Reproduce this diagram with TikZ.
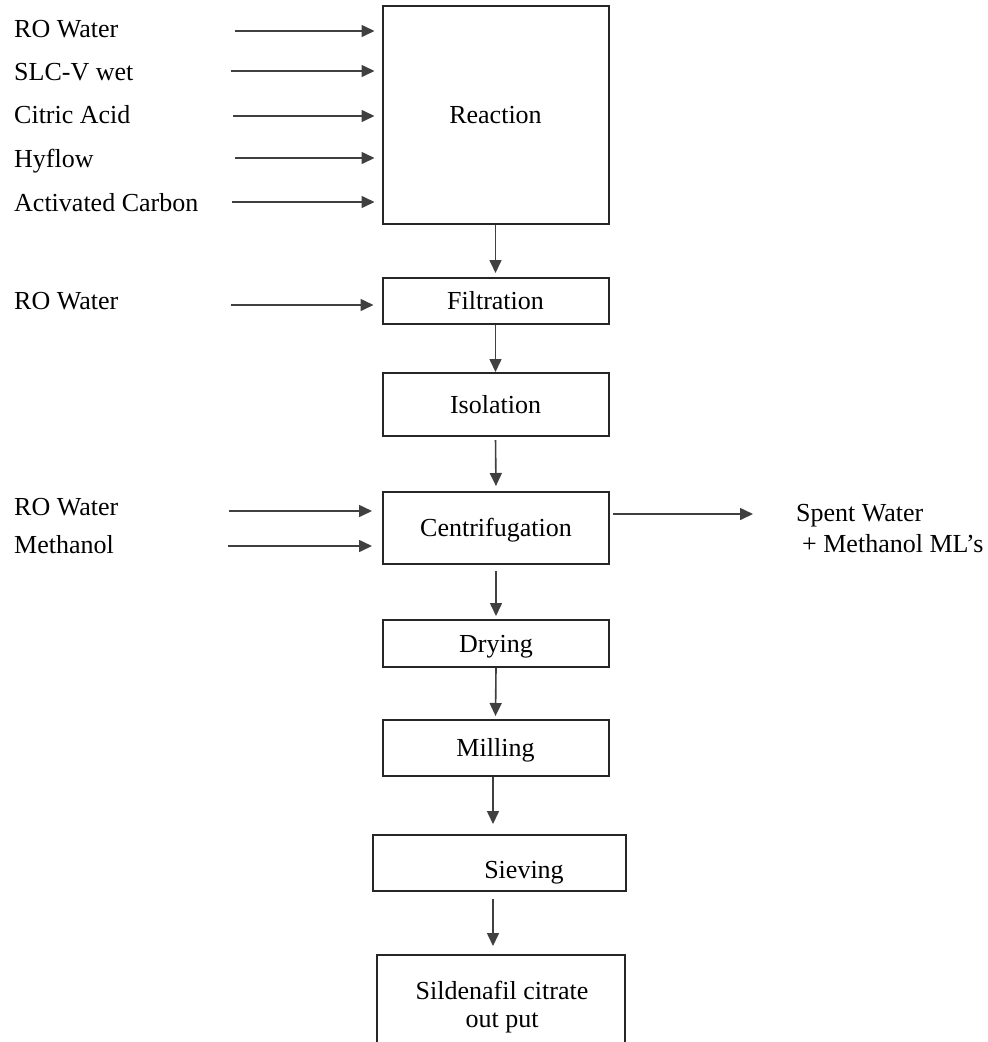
\documentclass[tikz,border=0pt]{standalone}
\usepackage{fontspec}
\setmainfont{Liberation Serif}
\usetikzlibrary{arrows.meta}
\begin{document}
\begin{tikzpicture}[x=1pt,y=-1pt,
  font=\fontsize{26}{31}\selectfont,
  box/.style={draw=black!85, line width=2pt, minimum width=226pt, inner sep=0pt, text height=17pt, text depth=0pt},
  lbl/.style={anchor=base west, inner sep=0pt},
  txt/.style={anchor=base, inner sep=0pt},
  arr/.style={draw=black!75, line width=1.6pt, -{Triangle[length=13pt,width=12pt]}}]
\useasboundingbox (0,0) rectangle (988,1042);
\clip (0,0) rectangle (988,1042);
\fill[white] (0,0) rectangle (988,1042);

% process boxes
\node[box, minimum height=218pt] (reaction) at (495.5,115) {Reaction};
\node[box, minimum height=46pt] (filtration) at (495.5,301) {Filtration};
\node[box, minimum height=63pt] (isolation) at (495.5,404.5) {Isolation};
\node[box, minimum height=72pt] (centrif) at (496,528) {Centrifugation};
\node[box, minimum height=47pt] (drying) at (496,643.5) {Drying};
\node[box, minimum height=56pt] (milling) at (495.5,748) {Milling};
\node[box, minimum width=253pt, minimum height=56pt] (sieving) at (499.5,863) {};
\node[txt] (sievtxt) at (524,878) {Sieving};
\node[box, minimum width=248pt, minimum height=130pt] (final) at (501,1020) {};
\node[txt] (fin1) at (502,999) {Sildenafil citrate};
\node[txt] (fin2) at (502,1027) {out put};

% input labels
\node[lbl] (l1) at (14,37) {RO Water};
\node[lbl] (l2) at (14,80) {SLC-V wet};
\node[lbl] (l3) at (14,123) {Citric Acid};
\node[lbl] (l4) at (14,167) {Hyflow};
\node[lbl] (l5) at (14,211) {Activated Carbon};
\node[lbl] (l6) at (14,309) {RO Water};
\node[lbl] (l7) at (14,515) {RO Water};
\node[lbl] (l8) at (14,553) {Methanol};
\node[lbl] (o1) at (796,521) {Spent Water};
\node[lbl] (o2) at (802,552) {+ Methanol ML’s};

% input arrow start points
\coordinate (a1) at (235,31);
\coordinate (a2) at (231,71);
\coordinate (a3) at (233,116);
\coordinate (a4) at (235,158);
\coordinate (a5) at (232,202);
\coordinate (a6) at (231,305);
\coordinate (a7) at (229,511);
\coordinate (a8) at (228,546);
\coordinate (outend) at (753,514);

\draw[arr, shorten >=7pt] (a1) -- (a1 -| reaction.west);
\draw[arr, shorten >=7pt] (a2) -- (a2 -| reaction.west);
\draw[arr, shorten >=7pt] (a3) -- (a3 -| reaction.west);
\draw[arr, shorten >=7pt] (a4) -- (a4 -| reaction.west);
\draw[arr, shorten >=7pt] (a5) -- (a5 -| reaction.west);
\draw[arr, shorten >=8pt] (a6) -- (a6 -| filtration.west);
\draw[arr, shorten >=10pt] (a7) -- (a7 -| centrif.west);
\draw[arr, shorten >=10pt] (a8) -- (a8 -| centrif.west);
\draw[arr, shorten <=3pt] (outend -| centrif.east) -- (outend);

% vertical flow
\draw[arr, shorten >=4pt] (reaction.south) -- (filtration.north);
\draw[arr, shorten >=0pt] (filtration.south) -- (isolation.north);
\draw[arr, shorten <=3pt, shorten >=5pt] (isolation.south) -- (centrif.north);
\draw[arr, shorten <=6pt, shorten >=3pt] (centrif.south) -- (drying.north);
\draw[arr, shorten >=3pt] (drying.south) -- (milling.north);
\draw[arr, shorten >=10pt] ([xshift=-2.5pt]milling.south) -- ([xshift=-2.5pt]milling.south |- sieving.north);
\draw[arr, shorten <=7pt, shorten >=8pt] ([xshift=-6.5pt]sieving.south) -- ([xshift=-6.5pt]sieving.south |- final.north);
\end{tikzpicture}
\end{document}
